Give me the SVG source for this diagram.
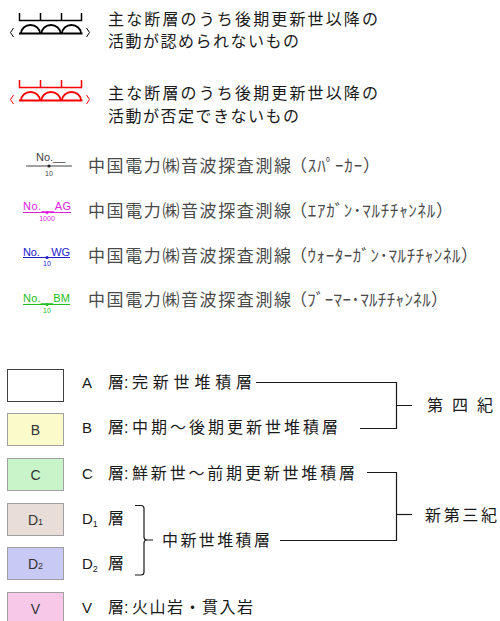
<svg xmlns="http://www.w3.org/2000/svg" width="500" height="621" viewBox="0 0 500 621">
<style>
text{font-family:"Liberation Sans","Noto Sans CJK JP",sans-serif;fill:#1a1a1a}
.jp{font-size:16px}
.sv{font-size:17px;fill:#4a4a4a}
.no{font-size:11px}
.sm{font-size:7px;text-anchor:middle}
.box{stroke:#a0a0a0;stroke-width:1}
.bl{font-size:14px;text-anchor:middle;fill:#333}
.cn{fill:none;stroke:#1a1a1a;stroke-width:1.2}
.flt{fill:none;stroke-width:1.6}
</style>
<defs>
<g id="fault">
<path d="M19.5,13 V20.5 H81.5 V13 M40.5,13 V20.5 M61.5,13 V20.5" stroke-width="1.5"/>
<path d="M19,33.5 H82.5" stroke-width="2"/>
<path d="M21,33.5 A9.5,8.5 0 0 1 40,33.5 M41.5,33.5 A9.5,8.5 0 0 1 60.5,33.5 M62,33.5 A9.5,8.5 0 0 1 81,33.5" stroke-width="1.8"/>
<path d="M13.5,28 L10.5,32.5 L13.5,37 M86.5,28 L89.5,32.5 L86.5,37" stroke-width="1"/>
</g>
</defs>

<g id="fault-inactive" class="flt" stroke="#000"><use href="#fault"/></g>
<g id="fault-inactive-label">
<text class="jp" x="108" y="24.5" textLength="270" lengthAdjust="spacing">主な断層のうち後期更新世以降の</text>
<text class="jp" x="108" y="47" textLength="191" lengthAdjust="spacing">活動が認められないもの</text>
</g>
<g id="fault-active" class="flt" stroke="#ff0000"><use href="#fault" y="67"/></g>
<g id="fault-active-label">
<text class="jp" x="108" y="99" textLength="270" lengthAdjust="spacing">主な断層のうち後期更新世以降の</text>
<text class="jp" x="108" y="121.5" textLength="191" lengthAdjust="spacing">活動が否定できないもの</text>
</g>

<g id="survey-sparker">
<text class="no" x="36" y="161" style="fill:#444">No.__</text>
<line x1="26" y1="166" x2="72" y2="166" stroke="#444"/>
<circle cx="49" cy="166" r="1.6" fill="#222"/>
<text class="sm" x="49" y="175.5" style="fill:#444">10</text>
<text class="sv" x="88" y="172" textLength="203" lengthAdjust="spacing">中国電力㈱音波探査測線</text>
<text class="sv" x="290" y="172" textLength="90" lengthAdjust="spacing">（ｽﾊﾟｰｶｰ）</text>
</g>
<g id="survey-ag">
<text class="no" x="23" y="210" style="fill:#e020e0" textLength="48" lengthAdjust="spacing">No.__AG</text>
<line x1="23" y1="212.5" x2="71" y2="212.5" stroke="#e020e0"/>
<circle cx="47" cy="212.5" r="1.6" fill="#e020e0"/>
<text class="sm" x="47" y="220.5" style="fill:#e020e0">1000</text>
<text class="sv" x="88" y="217" textLength="203" lengthAdjust="spacing">中国電力㈱音波探査測線</text>
<text class="sv" x="290" y="217" textLength="163" lengthAdjust="spacing">（ｴｱｶﾞﾝ･ﾏﾙﾁﾁｬﾝﾈﾙ）</text>
</g>
<g id="survey-wg">
<text class="no" x="23" y="255.5" style="fill:#2020d0" textLength="47" lengthAdjust="spacing">No.__WG</text>
<line x1="23" y1="257.5" x2="70" y2="257.5" stroke="#2020d0"/>
<circle cx="47" cy="257.5" r="1.6" fill="#2020d0"/>
<text class="sm" x="47" y="266" style="fill:#2020d0">10</text>
<text class="sv" x="88" y="262" textLength="203" lengthAdjust="spacing">中国電力㈱音波探査測線</text>
<text class="sv" x="290" y="262" textLength="188" lengthAdjust="spacing">（ｳｫｰﾀｰｶﾞﾝ･ﾏﾙﾁﾁｬﾝﾈﾙ）</text>
</g>
<g id="survey-bm">
<text class="no" x="23" y="302" style="fill:#20c020" textLength="47" lengthAdjust="spacing">No.__BM</text>
<line x1="23" y1="304.5" x2="70" y2="304.5" stroke="#20c020"/>
<circle cx="47" cy="304.5" r="1.6" fill="#20c020"/>
<text class="sm" x="47" y="313" style="fill:#20c020">10</text>
<text class="sv" x="88" y="306" textLength="203" lengthAdjust="spacing">中国電力㈱音波探査測線</text>
<text class="sv" x="290" y="306" textLength="158" lengthAdjust="spacing">（ﾌﾞｰﾏｰ･ﾏﾙﾁﾁｬﾝﾈﾙ）</text>
</g>

<g id="layer-a">
<rect x="7.5" y="369.5" width="56" height="32" fill="#fff" stroke="#404040"/>
<text class="jp" y="388"><tspan x="82" font-size="15">A</tspan><tspan x="108">層:</tspan><tspan x="132" textLength="120" lengthAdjust="spacing">完新世堆積層</tspan></text>
</g>
<g id="layer-b">
<rect class="box" x="7.5" y="413.5" width="56" height="32" fill="#fafacb"/>
<text class="bl" x="35.5" y="434.5">B</text>
<text class="jp" y="433"><tspan x="82" font-size="15">B</tspan><tspan x="108">層:</tspan><tspan x="132" textLength="206" lengthAdjust="spacing">中期～後期更新世堆積層</tspan></text>
</g>
<g id="layer-c">
<rect class="box" x="7.5" y="458.5" width="56" height="32" fill="#c9f4c9"/>
<text class="bl" x="35.5" y="479.5">C</text>
<text class="jp" y="479"><tspan x="82" font-size="15">C</tspan><tspan x="108">層:</tspan><tspan x="132" textLength="223" lengthAdjust="spacing">鮮新世～前期更新世堆積層</tspan></text>
</g>
<g id="layer-d1">
<rect class="box" x="7.5" y="503.5" width="56" height="32" fill="#e8ddd8"/>
<text class="bl" x="35.5" y="524.5">D<tspan font-size="9">1</tspan></text>
<text class="jp" y="524"><tspan x="82" font-size="15">D</tspan><tspan font-size="9" dy="3">1</tspan><tspan x="108" dy="-3">層</tspan></text>
</g>
<g id="layer-d2">
<rect class="box" x="7.5" y="547.5" width="56" height="32" fill="#c9c9f6"/>
<text class="bl" x="35.5" y="568.5">D<tspan font-size="9">2</tspan></text>
<text class="jp" y="569"><tspan x="82" font-size="15">D</tspan><tspan font-size="9" dy="3">2</tspan><tspan x="108" dy="-3">層</tspan></text>
</g>
<g id="layer-v">
<rect class="box" x="7.5" y="592.5" width="56" height="32" fill="#f7c8e8"/>
<text class="bl" x="35.5" y="613.5">V</text>
<text class="jp" y="613"><tspan x="82" font-size="15">V</tspan><tspan x="108">層:</tspan><tspan x="132" textLength="121" lengthAdjust="spacing">火山岩・貫入岩</tspan></text>
</g>
<g id="miocene">
<text class="jp" x="162" y="546" textLength="108" lengthAdjust="spacing">中新世堆積層</text>
</g>
<g id="quaternary">
<text class="jp" x="427" y="411" textLength="66" lengthAdjust="spacing">第 四 紀</text>
</g>
<g id="neogene">
<text class="jp" x="425" y="521" textLength="72" lengthAdjust="spacing">新第三紀</text>
</g>

<g id="connectors">
<path class="cn" d="M135,505.5 H141 Q144,505.5 144,508.5 V537 Q144,540 147,540 H153 M147,540 Q144,540 144,543 V572 Q144,575 141,575 H135" stroke="#333"/>
<path class="cn" d="M256,382.5 H396.5 V428.5 H360 M396.5,405.5 H412"/>
<path class="cn" d="M367,472.5 H396.5 V540.5 H280"/>
<path class="cn" d="M396.5,514.5 H412" stroke="#888"/>
</g>
</svg>
